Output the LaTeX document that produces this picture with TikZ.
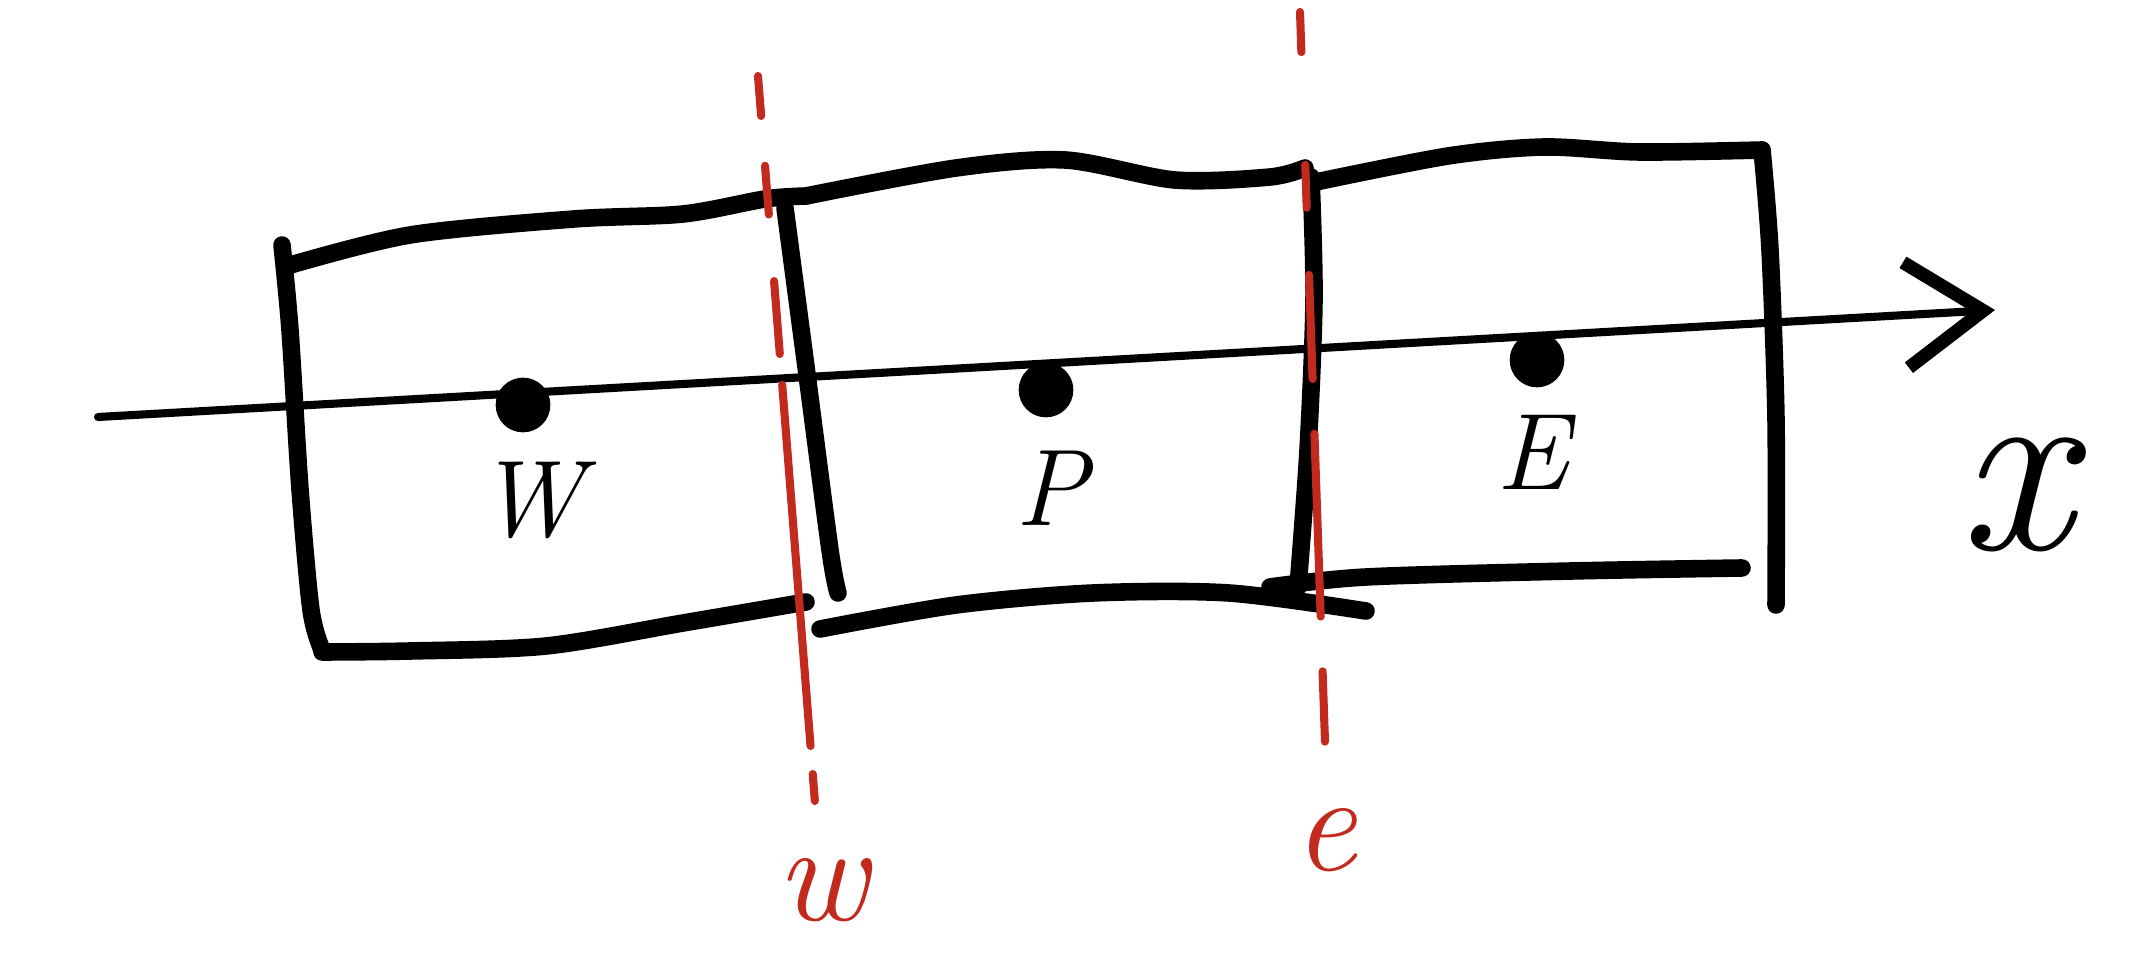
\documentclass[tikz,border=0pt]{standalone}
\usepackage{amsmath}
\usetikzlibrary{arrows.meta}
\definecolor{facered}{RGB}{194,42,30}

\begin{document}
\begin{tikzpicture}[x=0.01cm,y=-0.01cm,line cap=round,line join=round,
		>={Straight Barb[length=22pt,width=30pt,line width=3.8pt]},
		bullet/.style={circle,inner sep=5.5pt,fill},
		wall/.style={line width=5pt},
		face/.style={facered,line width=2.3pt,dash pattern=#1},
		lbl/.style={font=\fontsize{31}{36}\selectfont\itshape}]
		\useasboundingbox (0,0) rectangle (2142,958);
		% cell walls
		\draw[wall] plot[smooth] coordinates {(282,245) (290,330) (300,489) (311,610) (322,650)};
		\draw[wall] plot[smooth] coordinates {(322,652) (410,651) (546,646) (683,623) (806,602)};
		\draw[wall] plot[smooth] coordinates {(287,266) (410,235) (574,219) (683,214) (765,199) (806,196)};
		\draw[wall] plot[smooth] coordinates {(806,196) (956,168) (1065,160) (1175,180) (1270,177) (1305,168)};
		\draw[wall] plot[smooth] coordinates {(1311,183) (1448,156) (1544,147) (1639,152) (1762,150)};
		\draw[wall] plot[smooth] coordinates {(1762,150) (1770,250) (1776,420) (1776,605)};
		\draw[wall] plot[smooth] coordinates {(820,629) (956,605) (1093,593) (1229,593) (1366,611)};
		\draw[wall] plot[smooth] coordinates {(1270,587) (1366,577) (1571,571) (1742,568)};
		% interfaces
		\draw[wall] plot[smooth] coordinates {(785,208) (806,367) (830,550) (838,593)};
		\draw[wall] plot[smooth] coordinates {(1311,177) (1314,300) (1308,450) (1298,587)};
		% axis
		\coordinate (x0) at (98,417);
		\coordinate (x1) at (1995,310);
		\draw[->,line width=2.3pt] (x0) -- (x1);
		\node[font=\fontsize{72}{76}\selectfont\itshape] (xl) at (2015,495) {x};
		% grid points
		\foreach \a/\b/\N/\c/\d in {523/405/W/530/500,1046/390/P/1052/488,1537/360/E/1533/452}
		{\node[bullet] (n\N) at (\a,\b) {};
			\node[lbl] (l\N) at (\c,\d) {\N};}
		% faces
		\coordinate (wt) at (758,76);
		\coordinate (wb) at (815,803);
		\coordinate (et) at (1300,12);
		\coordinate (eb) at (1325,742);
		\draw[face={on 11.4pt off 14.2pt on 13.9pt off 19pt on 20.8pt off 8.8pt on 103pt off 8pt on 7.7pt off 60pt}] (wt) -- (wb);
		\draw[face={on 11.4pt off 32.1pt on 12.2pt off 19.1pt on 29.6pt off 15.6pt on 52pt off 15.6pt on 20pt off 60pt}] (et) -- (eb);
		\node[facered,font=\fontsize{40}{44}\selectfont\itshape] (lw) at (822,890) {w};
		\node[facered,font=\fontsize{40}{44}\selectfont\itshape] (le) at (1325,840) {e};
\end{tikzpicture}
\end{document}
